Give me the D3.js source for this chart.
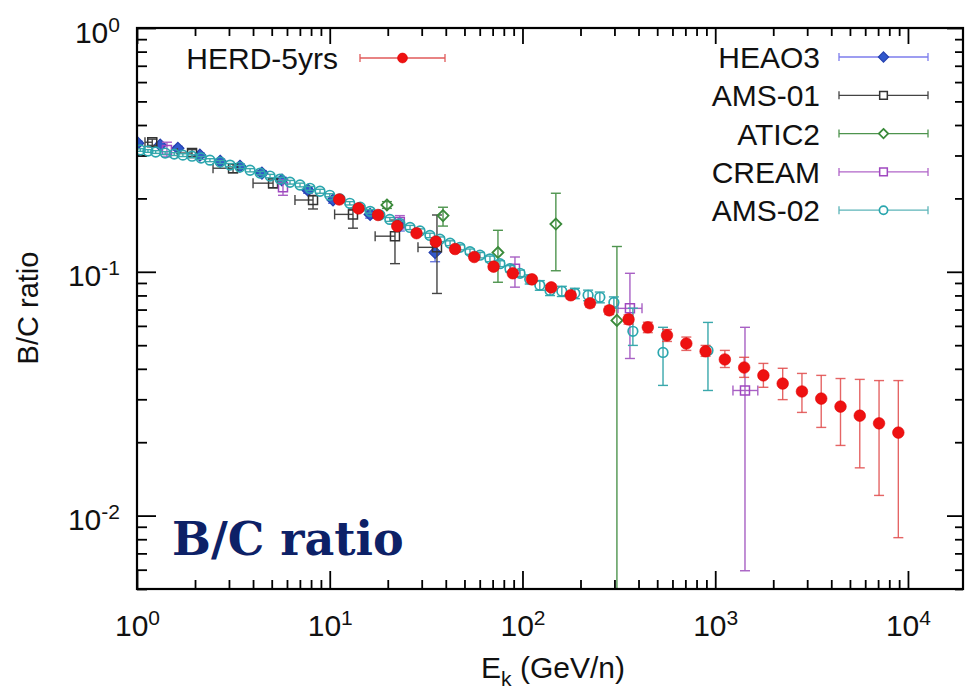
<!DOCTYPE html>
<html>
<head>
<meta charset="utf-8">
<script src="https://cdn.jsdelivr.net/npm/d3@7"></script>
<style>
  body { margin: 0; background: #fff; }
  svg { display: block; }
</style>
</head>
<body>
<svg id="chart" width="966" height="690"></svg>
<script>
// ---- Tick labels (powers of ten) ----
const xTickExp = ["0", "1", "2", "3", "4"];
const yTickExp = ["0", "-1", "-2"];

// ---- HERD-5yrs projection ----
const herdE  = [11.2, 14.1, 17.8, 22.4, 28.2, 35.5, 44.7, 56.2, 70.8, 89.1, 112, 141, 178, 224, 282,
                355, 447, 562, 708, 891, 1122, 1413, 1778, 2239, 2818, 3548, 4467, 5623, 7079, 8913];
const herdR  = [0.198, 0.182, 0.171, 0.154, 0.144, 0.133, 0.124, 0.115, 0.105, 0.0986, 0.0931, 0.0863, 0.0801, 0.0743, 0.0695,
                0.0638, 0.0592, 0.0549, 0.0508, 0.0472, 0.0437, 0.0405, 0.0376, 0.0348, 0.0323, 0.0302, 0.0280, 0.0257, 0.0239, 0.0219];
const herdLo = [0.194, 0.178, 0.167, 0.151, 0.141, 0.130, 0.121, 0.112, 0.102, 0.0960, 0.0905, 0.0838, 0.0776, 0.0717, 0.0668,
                0.0610, 0.0563, 0.0518, 0.0476, 0.0450, 0.0405, 0.0369, 0.0336, 0.0299, 0.0265, 0.0230, 0.0194, 0.0157, 0.0121, 0.00812];
const herdHi = [0.202, 0.186, 0.175, 0.157, 0.147, 0.136, 0.127, 0.118, 0.108, 0.1012, 0.0957, 0.0888, 0.0826, 0.0769, 0.0722,
                0.0666, 0.0621, 0.0580, 0.0540, 0.0499, 0.0476, 0.0446, 0.0421, 0.0402, 0.0383, 0.0376, 0.0365, 0.0362, 0.0358, 0.0358];

// ---- HEAO3 ----
const heaoE  = [1.01, 1.32, 1.63, 2.12, 2.70, 3.42, 4.45, 5.65, 7.71, 10.4, 16.2, 23.1, 35.2];
const heaoR  = [0.337, 0.331, 0.321, 0.301, 0.284, 0.271, 0.254, 0.238, 0.216, 0.197, 0.172, 0.155, 0.120];
const heaoLo = [0.331, 0.325, 0.315, 0.295, 0.278, 0.265, 0.248, 0.232, 0.210, 0.191, 0.166, 0.147, 0.110];
const heaoHi = [0.343, 0.337, 0.327, 0.307, 0.290, 0.277, 0.260, 0.244, 0.222, 0.203, 0.178, 0.163, 0.130];

// ---- AMS-01 ----
const ams1E   = [1.20, 1.93, 3.15, 5.08, 8.19, 13.2, 21.8, 36.0];
const ams1R   = [0.340, 0.307, 0.266, 0.231, 0.197, 0.172, 0.140, 0.126];
const ams1Lo  = [0.330, 0.297, 0.255, 0.221, 0.181, 0.151, 0.108, 0.0815];
const ams1Hi  = [0.350, 0.317, 0.277, 0.241, 0.205, 0.181, 0.163, 0.171];
const ams1Xlo = [1.10, 1.62, 2.48, 4.00, 6.60, 10.6, 17.2, 28.7];

// ---- ATIC2 ----
const aticE  = [19.8, 38.7, 74.6, 149, 309];
const aticR  = [0.188, 0.170, 0.120, 0.157, 0.0632];
const aticLo = [0.182, 0.154, 0.0906, 0.101, 0.001];
const aticHi = [0.194, 0.184, 0.148, 0.210, 0.127];

// ---- CREAM ----
const creamE   = [1.43, 5.72, 23.1, 91.4, 361, 1427];
const creamR   = [0.316, 0.222, 0.160, 0.103, 0.0708, 0.0326];
const creamLo  = [0.296, 0.206, 0.150, 0.0865, 0.0441, 0.00594];
const creamHi  = [0.340, 0.238, 0.170, 0.115, 0.0986, 0.0592];
const creamXlo = [1.43, 5.72, 23.1, 91.4, 313, 1236];
const creamXhi = [1.43, 5.72, 23.1, 91.4, 417, 1663];

// ---- AMS-02 ----
const ams2E = [1.04, 1.14, 1.25, 1.40, 1.56, 1.73, 1.93, 2.15, 2.39, 2.70, 3.04, 3.42, 3.86, 4.35, 4.90, 5.52, 6.22,
               7.01, 7.90, 8.90, 10.0, 11.3, 12.7, 14.4, 16.2, 18.2, 20.5, 23.1, 26.1, 29.4, 33.1, 37.3, 42.1, 47.4,
               53.4, 60.2, 67.8, 76.4, 86.1, 97.1, 109, 123, 139, 160, 187, 219, 252, 298, 374, 536, 917];
const ams2R = [0.316, 0.313, 0.310, 0.307, 0.304, 0.301, 0.298, 0.293, 0.287, 0.282, 0.274, 0.269, 0.261, 0.254, 0.247, 0.240, 0.233,
               0.227, 0.220, 0.214, 0.206, 0.199, 0.191, 0.184, 0.177, 0.171, 0.164, 0.158, 0.152, 0.147, 0.141, 0.136, 0.131, 0.126,
               0.121, 0.117, 0.113, 0.108, 0.103, 0.0986, 0.0931, 0.0880, 0.0839, 0.0832, 0.0816, 0.0801, 0.0786, 0.0749, 0.0570, 0.0467, 0.0476];
const ams2Up = [0.004, 0.004, 0.004, 0.004, 0.004, 0.004, 0.004, 0.004, 0.004, 0.004, 0.004, 0.004, 0.004, 0.004, 0.004, 0.004, 0.004,
                0.004, 0.004, 0.004, 0.003, 0.003, 0.003, 0.003, 0.003, 0.003, 0.003, 0.003, 0.003, 0.003, 0.003, 0.003, 0.003, 0.003,
                0.003, 0.003, 0.003, 0.003, 0.003, 0.003, 0.004, 0.004, 0.004, 0.004, 0.004, 0.004, 0.004, 0.004, 0.0139, 0.0125, 0.0144];
const ams2Dn = [0.004, 0.004, 0.004, 0.004, 0.004, 0.004, 0.004, 0.004, 0.004, 0.004, 0.004, 0.004, 0.004, 0.004, 0.004, 0.004, 0.004,
                0.004, 0.004, 0.004, 0.003, 0.003, 0.003, 0.003, 0.003, 0.003, 0.003, 0.003, 0.003, 0.003, 0.003, 0.003, 0.003, 0.003,
                0.003, 0.003, 0.003, 0.003, 0.003, 0.003, 0.004, 0.004, 0.004, 0.004, 0.004, 0.004, 0.004, 0.004, 0.0071, 0.0125, 0.0150];

// ---- Layout ----
const W = 966, H = 690;
const plot = { left: 137, right: 963, top: 28, bottom: 589 };
const FONT = "'Liberation Sans', Arial, Helvetica, sans-serif";

const svg = d3.select("#chart");
svg.append("rect").attr("width", W).attr("height", H).attr("fill", "#fff");

const x = d3.scaleLog().domain([1, 19300]).range([plot.left, plot.right]);
const y = d3.scaleLog().domain([0.005, 1]).range([plot.bottom, plot.top]);

svg.append("defs").append("clipPath").attr("id", "plot-clip")
  .append("rect")
  .attr("x", plot.left).attr("y", plot.top)
  .attr("width", plot.right - plot.left).attr("height", plot.bottom - plot.top);

// ---- Axes: inward ticks on all four sides ----
const xMajor = xTickExp.map(e => Math.pow(10, +e));
const yMajor = yTickExp.map(e => Math.pow(10, +e));
const xMinor = x.ticks().filter(v => !xMajor.some(m => Math.abs(m - v) < 1e-9 * m));
const yMinor = y.ticks().filter(v => !yMajor.some(m => Math.abs(m - v) < 1e-9 * m));

function styleAxis(g) {
  g.select(".domain").remove();
  g.selectAll(".tick line").attr("stroke", "#000").attr("stroke-width", 1.8);
}

const axes = svg.append("g");
// bottom
axes.append("g").attr("transform", `translate(0,${plot.bottom})`)
  .call(d3.axisBottom(x).tickValues(xMinor).tickSize(-9).tickFormat(""))
  .call(styleAxis);
const xAxisG = axes.append("g").attr("transform", `translate(0,${plot.bottom})`)
  .call(d3.axisBottom(x).tickValues(xMajor).tickSize(-18).tickFormat(""))
  .call(styleAxis);
// top
axes.append("g").attr("transform", `translate(0,${plot.top})`)
  .call(d3.axisTop(x).tickValues(xMinor).tickSize(-8).tickFormat(""))
  .call(styleAxis);
axes.append("g").attr("transform", `translate(0,${plot.top})`)
  .call(d3.axisTop(x).tickValues(xMajor).tickSize(-16).tickFormat(""))
  .call(styleAxis);
// left
axes.append("g").attr("transform", `translate(${plot.left},0)`)
  .call(d3.axisLeft(y).tickValues(yMinor).tickSize(-10).tickFormat(""))
  .call(styleAxis);
const yAxisG = axes.append("g").attr("transform", `translate(${plot.left},0)`)
  .call(d3.axisLeft(y).tickValues(yMajor).tickSize(-19).tickFormat(""))
  .call(styleAxis);
// right
axes.append("g").attr("transform", `translate(${plot.right},0)`)
  .call(d3.axisRight(y).tickValues(yMinor).tickSize(-8).tickFormat(""))
  .call(styleAxis);
axes.append("g").attr("transform", `translate(${plot.right},0)`)
  .call(d3.axisRight(y).tickValues(yMajor).tickSize(-16).tickFormat(""))
  .call(styleAxis);

// power-of-ten tick labels
xAxisG.selectAll(".tick text").each(function (d, i) {
  const t = d3.select(this);
  t.text(null).attr("y", 47).attr("dy", null)
    .attr("fill", "#111").attr("font-family", FONT).attr("font-size", 30)
    .attr("text-anchor", "middle");
  t.append("tspan").text("10");
  t.append("tspan").attr("dy", -11).attr("font-size", 21).text(xTickExp[i]);
});
yAxisG.selectAll(".tick text").each(function (d, i) {
  const t = d3.select(this);
  t.text(null).attr("x", -17).attr("y", 14).attr("dy", null)
    .attr("fill", "#111").attr("font-family", FONT).attr("font-size", 30)
    .attr("text-anchor", "end");
  t.append("tspan").text("10");
  t.append("tspan").attr("dy", -11).attr("font-size", 21).text(yTickExp[i]);
});

// axis titles
const xTitle = svg.append("text")
  .attr("x", 553).attr("y", 678).attr("text-anchor", "middle")
  .attr("font-family", FONT).attr("font-size", 30).attr("fill", "#111");
xTitle.append("tspan").text("E");
xTitle.append("tspan").attr("font-size", 21).attr("dy", 8).text("k");
xTitle.append("tspan").attr("dy", -8).text(" (GeV/n)");

svg.append("text")
  .attr("transform", "translate(38,308) rotate(-90)")
  .attr("text-anchor", "middle")
  .attr("font-family", FONT).attr("font-size", 29).attr("fill", "#111")
  .text("B/C ratio");

// ---- Markers ----
function markerPath(kind, r) {
  if (kind === "diamond") return `M0,${-r}L${r},0L0,${r}L${-r},0Z`;
  if (kind === "square") return `M${-r},${-r}H${r}V${r}H${-r}Z`;
  return `M${r},0A${r},${r} 0 1,1 ${-r},0A${r},${r} 0 1,1 ${r},0Z`;
}

function drawSeries(rows, st) {
  const g = svg.append("g").attr("clip-path", "url(#plot-clip)");
  const cap = 5;
  rows.forEach(d => {
    const px = x(d.E), py = y(d.R);
    const yl = y(d.lo), yh = y(d.hi);
    const eg = g.append("g").attr("stroke", st.err).attr("stroke-width", st.errW || 1.4)
      .attr("stroke-opacity", st.errOpacity || 1).attr("fill", "none");
    eg.append("line").attr("x1", px).attr("x2", px).attr("y1", yl).attr("y2", yh);
    eg.append("line").attr("x1", px - cap).attr("x2", px + cap).attr("y1", yl).attr("y2", yl);
    eg.append("line").attr("x1", px - cap).attr("x2", px + cap).attr("y1", yh).attr("y2", yh);
    if (d.xlo != null && d.xlo < d.E) {
      const xl = x(d.xlo);
      eg.append("line").attr("x1", xl).attr("x2", px).attr("y1", py).attr("y2", py);
      eg.append("line").attr("x1", xl).attr("x2", xl).attr("y1", py - cap).attr("y2", py + cap);
    }
    if (d.xhi != null && d.xhi > d.E) {
      const xr = x(d.xhi);
      eg.append("line").attr("x1", px).attr("x2", xr).attr("y1", py).attr("y2", py);
      eg.append("line").attr("x1", xr).attr("x2", xr).attr("y1", py - cap).attr("y2", py + cap);
    }
  });
  g.selectAll("path.pt").data(rows).join("path").attr("class", "pt")
    .attr("transform", d => `translate(${x(d.E)},${y(d.R)})`)
    .attr("d", markerPath(st.marker, st.r))
    .attr("fill", st.fill).attr("stroke", st.stroke).attr("stroke-width", st.sw || 1.5);
}

const styles = {
  heao:  { marker: "diamond", r: 6, fill: "#3158cc", stroke: "#2540b0", err: "#6a78dc", sw: 1.2 },
  ams1:  { marker: "square", r: 4.5, fill: "none", stroke: "#333", err: "#444", sw: 1.5 },
  atic:  { marker: "diamond", r: 5.5, fill: "none", stroke: "#3a8a3a", err: "#4e944e", sw: 1.8 },
  cream: { marker: "square", r: 4.5, fill: "none", stroke: "#a048c0", err: "#a860c4", sw: 1.5 },
  ams2:  { marker: "circle", r: 4.8, fill: "none", stroke: "#2aa6ae", err: "#3aa8ac", sw: 1.7 },
  herd:  { marker: "circle", r: 5.8, fill: "#ee1111", stroke: "#e00000", err: "#e04a4a", sw: 0.6, errOpacity: 0.85 }
};

const heaoRows  = heaoE.map((E, i) => ({ E, R: heaoR[i], lo: heaoLo[i], hi: heaoHi[i] }));
const ams1Rows  = ams1E.map((E, i) => ({ E, R: ams1R[i], lo: ams1Lo[i], hi: ams1Hi[i], xlo: ams1Xlo[i] }));
const aticRows  = aticE.map((E, i) => ({ E, R: aticR[i], lo: aticLo[i], hi: aticHi[i] }));
const creamRows = creamE.map((E, i) => ({ E, R: creamR[i], lo: creamLo[i], hi: creamHi[i], xlo: creamXlo[i], xhi: creamXhi[i] }));
const ams2Rows  = ams2E.map((E, i) => ({ E, R: ams2R[i], lo: ams2R[i] - ams2Dn[i], hi: ams2R[i] + ams2Up[i] }));
const herdRows  = herdE.map((E, i) => ({ E, R: herdR[i], lo: herdLo[i], hi: herdHi[i] }));

drawSeries(heaoRows, styles.heao);
drawSeries(ams1Rows, styles.ams1);
drawSeries(aticRows, styles.atic);
drawSeries(creamRows, styles.cream);
drawSeries(ams2Rows, styles.ams2);
drawSeries(herdRows, styles.herd);

// ---- Frame ----
svg.append("rect")
  .attr("x", plot.left).attr("y", plot.top)
  .attr("width", plot.right - plot.left).attr("height", plot.bottom - plot.top)
  .attr("fill", "none").attr("stroke", "#000").attr("stroke-width", 2.2);

// ---- Legends ----
function legendEntry(label, st, lineColor, textX, x0, x1, cy) {
  const g = svg.append("g");
  g.append("text").attr("x", textX).attr("y", cy + 11).attr("text-anchor", "end")
    .attr("font-family", FONT).attr("font-size", 30).attr("fill", "#111").text(label);
  const lg = g.append("g").attr("stroke", lineColor).attr("stroke-width", 1.3);
  lg.append("line").attr("x1", x0).attr("x2", x1).attr("y1", cy).attr("y2", cy);
  lg.append("line").attr("x1", x0).attr("x2", x0).attr("y1", cy - 4).attr("y2", cy + 4);
  lg.append("line").attr("x1", x1).attr("x2", x1).attr("y1", cy - 4).attr("y2", cy + 4);
  g.append("path").attr("transform", `translate(${(x0 + x1) / 2},${cy})`)
    .attr("d", markerPath(st.marker, st.r * 0.85))
    .attr("fill", st.fill === "none" ? "#fff" : st.fill)
    .attr("stroke", st.stroke).attr("stroke-width", st.sw);
}

legendEntry("HERD-5yrs", styles.herd, "#e05a5a", 338, 360, 445, 58);
const rightLegend = [
  ["HEAO3", styles.heao, "#7d7ded"],
  ["AMS-01", styles.ams1, "#444"],
  ["ATIC2", styles.atic, "#4e944e"],
  ["CREAM", styles.cream, "#b064c8"],
  ["AMS-02", styles.ams2, "#5cb4b8"]
];
rightLegend.forEach(([label, st, lc], i) => {
  legendEntry(label, st, lc, 820, 839, 928, 57 + i * 38.3);
});

// ---- Panel caption ----
svg.append("text")
  .attr("x", 172).attr("y", 555)
  .attr("font-family", "'DejaVu Serif', 'Liberation Serif', serif")
  .attr("font-weight", "bold").attr("font-size", 46)
  .attr("fill", "#0d2167")
  .text("B/C ratio");
</script>
</body>
</html>
